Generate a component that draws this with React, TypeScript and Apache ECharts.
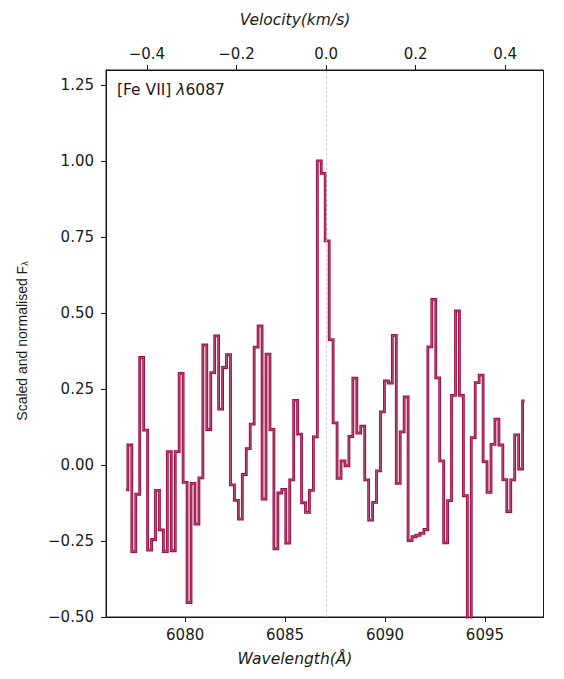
import React, { useEffect, useRef } from 'react';
import * as echarts from 'echarts';

// Wavelength grid of the extracted spectrum (Å)
const wavelengths = [
  6077.035, 6077.233, 6077.43, 6077.628, 6077.825, 6078.023, 6078.22, 6078.418, 6078.615, 6078.813,
  6079.01, 6079.208, 6079.405, 6079.603, 6079.8, 6079.998, 6080.195, 6080.393, 6080.59, 6080.788,
  6080.985, 6081.183, 6081.38, 6081.578, 6081.775, 6081.973, 6082.17, 6082.368, 6082.565, 6082.763,
  6082.96, 6083.158, 6083.355, 6083.553, 6083.75, 6083.948, 6084.145, 6084.343, 6084.54, 6084.738,
  6084.935, 6085.133, 6085.33, 6085.528, 6085.725, 6085.923, 6086.12, 6086.318, 6086.515, 6086.713,
  6086.91, 6087.108, 6087.305, 6087.503, 6087.7, 6087.898, 6088.095, 6088.293, 6088.49, 6088.688,
  6088.885, 6089.083, 6089.28, 6089.478, 6089.675, 6089.873, 6090.07, 6090.268, 6090.465, 6090.663,
  6090.86, 6091.058, 6091.255, 6091.453, 6091.65, 6091.848, 6092.045, 6092.243, 6092.44, 6092.638,
  6092.835, 6093.033, 6093.23, 6093.428, 6093.625, 6093.823, 6094.02, 6094.218, 6094.415, 6094.613,
  6094.81, 6095.008, 6095.205, 6095.403, 6095.6, 6095.798, 6095.995, 6096.193, 6096.39, 6096.588,
  6096.785, 6096.983,
];

// Scaled and normalised flux density
const flux = [
  -0.082, 0.066, -0.285, -0.096, 0.354, 0.115, -0.28, -0.245, -0.083, -0.213,
  -0.285, 0.044, -0.282, 0.044, 0.302, -0.057, -0.453, -0.06, -0.194, -0.042,
  0.395, 0.117, 0.304, 0.425, 0.184, 0.321, 0.363, -0.065, -0.116, -0.178,
  -0.031, 0.054, 0.135, 0.388, 0.458, -0.112, 0.365, 0.117, -0.276, -0.092,
  -0.08, -0.257, -0.049, 0.213, 0.102, -0.124, -0.156, -0.083, 0.093, 1.001,
  0.96, 0.738, 0.413, 0.139, -0.044, 0.014, -0.003, 0.094, 0.286, 0.105,
  0.128, -0.049, -0.181, -0.123, -0.019, 0.175, 0.277, 0.27, 0.427, -0.06,
  0.109, 0.224, -0.249, -0.236, -0.231, -0.225, -0.212, 0.389, 0.545, 0.287,
  0.014, -0.256, -0.117, 0.229, 0.507, 0.229, -0.101, -0.62, 0.09, 0.271,
  0.296, 0.011, -0.09, 0.068, 0.151, 0.066, -0.048, -0.153, -0.049, 0.099,
  -0.013, 0.211,
];

const wavelengthTicks = [6080, 6085, 6090, 6095];
const velocityTicks = [-0.4, -0.2, 0, 0.2, 0.4];
const fluxTicks = [-0.5, -0.25, 0, 0.25, 0.5, 0.75, 1.0, 1.25];

const X_MIN = 6076.04;
const X_MAX = 6097.93;
const Y_MIN = -0.5;
const Y_MAX = 1.3;
const LINE_CENTRE = 6087.05; // velocity zero point
const VEL_PER_ANGSTROM = 0.04464;

const W = 564;
const H = 679;
const GRID = { left: 106, right: 20.5, top: 70, bottom: 62 };

const INK = '#1a1a1a';
const FONT = "'DejaVu Sans', sans-serif";
const NARROW = "'Liberation Sans Narrow', 'Liberation Sans', sans-serif";

const minus = (v: number, digits: number) =>
  (v < -1e-9 ? '\u2212' : '') + Math.abs(v).toFixed(digits);

export default function App() {
  const ref = useRef<HTMLDivElement>(null);

  useEffect(() => {
    if (!ref.current) return;
    const chart = echarts.init(ref.current, undefined, { renderer: 'svg' });
    const points = wavelengths.map((w, i) => [w, flux[i]]);

    const tickLabel = { color: INK, fontFamily: FONT, fontSize: 15 };
    const axisLine = { show: true, onZero: false, lineStyle: { color: INK, width: 1 } };
    const tick = (values: number[]) => ({
      show: true,
      inside: false,
      length: 5,
      customValues: values,
      lineStyle: { color: INK, width: 1 },
    });

    chart.setOption({
      animation: false,
      backgroundColor: '#ffffff',
      grid: {
        ...GRID,
        containLabel: false,
        outerBoundsMode: 'none',
        show: true,
        borderColor: INK,
        borderWidth: 1,
        backgroundColor: 'transparent',
      },
      xAxis: [
        {
          type: 'value',
          position: 'bottom',
          min: X_MIN,
          max: X_MAX,
          splitLine: { show: false },
          axisLine,
          axisTick: tick(wavelengthTicks),
          axisLabel: {
            ...tickLabel,
            margin: 10,
            customValues: wavelengthTicks,
            formatter: (v: number) => String(Math.round(v)),
          },
        },
        {
          type: 'value',
          position: 'top',
          min: (X_MIN - LINE_CENTRE) * VEL_PER_ANGSTROM,
          max: (X_MAX - LINE_CENTRE) * VEL_PER_ANGSTROM,
          splitLine: { show: false },
          axisLine,
          axisTick: tick(velocityTicks),
          axisLabel: {
            ...tickLabel,
            margin: 9,
            customValues: velocityTicks,
            formatter: (v: number) => minus(v, 1),
          },
        },
      ],
      yAxis: {
        type: 'value',
        min: Y_MIN,
        max: Y_MAX,
        splitLine: { show: false },
        axisLine,
        axisTick: tick(fluxTicks),
        axisLabel: {
          ...tickLabel,
          margin: 12,
          customValues: fluxTicks,
          formatter: (v: number) => minus(v, 2),
        },
      },
      graphic: [
        {
          type: 'text',
          x: 295,
          y: 20,
          style: {
            text: 'Velocity(km/s)',
            fill: INK,
            font: `italic 15.5px ${FONT}`,
            align: 'center',
            verticalAlign: 'middle',
          },
        },
        {
          type: 'text',
          x: 295,
          y: 659,
          style: {
            text: 'Wavelength(Å)',
            fill: INK,
            font: `italic 15.5px ${FONT}`,
            align: 'center',
            verticalAlign: 'middle',
          },
        },
        {
          type: 'text',
          x: 22,
          y: 341,
          rotation: Math.PI / 2,
          style: {
            text: 'Scaled and normalised F{s|λ}',
            fill: INK,
            fontFamily: NARROW,
            fontSize: 14,
            align: 'center',
            verticalAlign: 'middle',
            rich: {
              s: {
                fontFamily: NARROW,
                fontSize: 9,
                fill: INK,
                verticalAlign: 'bottom',
                padding: [6, 0, 0, 0],
              },
            },
          },
        },
        {
          type: 'text',
          x: 117,
          y: 90,
          style: {
            text: '[Fe VII] {l|λ}6087',
            fill: INK,
            fontFamily: FONT,
            fontSize: 15.5,
            align: 'left',
            verticalAlign: 'middle',
            rich: {
              l: { fontFamily: FONT, fontSize: 15.5, fontStyle: 'italic', fill: INK },
            },
          },
        },
      ],
      series: [
        {
          name: 'centre',
          type: 'line',
          xAxisIndex: 0,
          yAxisIndex: 0,
          data: [],
          z: 1,
          silent: true,
          markLine: {
            silent: true,
            symbol: 'none',
            label: { show: false },
            lineStyle: { type: 'dashed', color: '#cccccc', width: 0.8 },
            data: [{ xAxis: LINE_CENTRE }],
          },
        },
        {
          name: 'flux',
          type: 'line',
          xAxisIndex: 0,
          yAxisIndex: 0,
          step: 'middle',
          data: points,
          showSymbol: false,
          symbol: 'none',
          clip: true,
          z: 2,
          lineStyle: { color: '#990843', width: 2.8, join: 'miter' },
        },
        {
          name: 'flux-core',
          type: 'line',
          xAxisIndex: 0,
          yAxisIndex: 0,
          step: 'middle',
          data: points,
          showSymbol: false,
          symbol: 'none',
          clip: true,
          z: 3,
          lineStyle: { color: '#d29aaf', width: 0.5, join: 'miter' },
        },
      ],
    });

    return () => chart.dispose();
  }, []);

  return (
    <div
      ref={ref}
      style={{ position: 'absolute', left: 0, top: 0, width: W, height: H }}
    />
  );
}
